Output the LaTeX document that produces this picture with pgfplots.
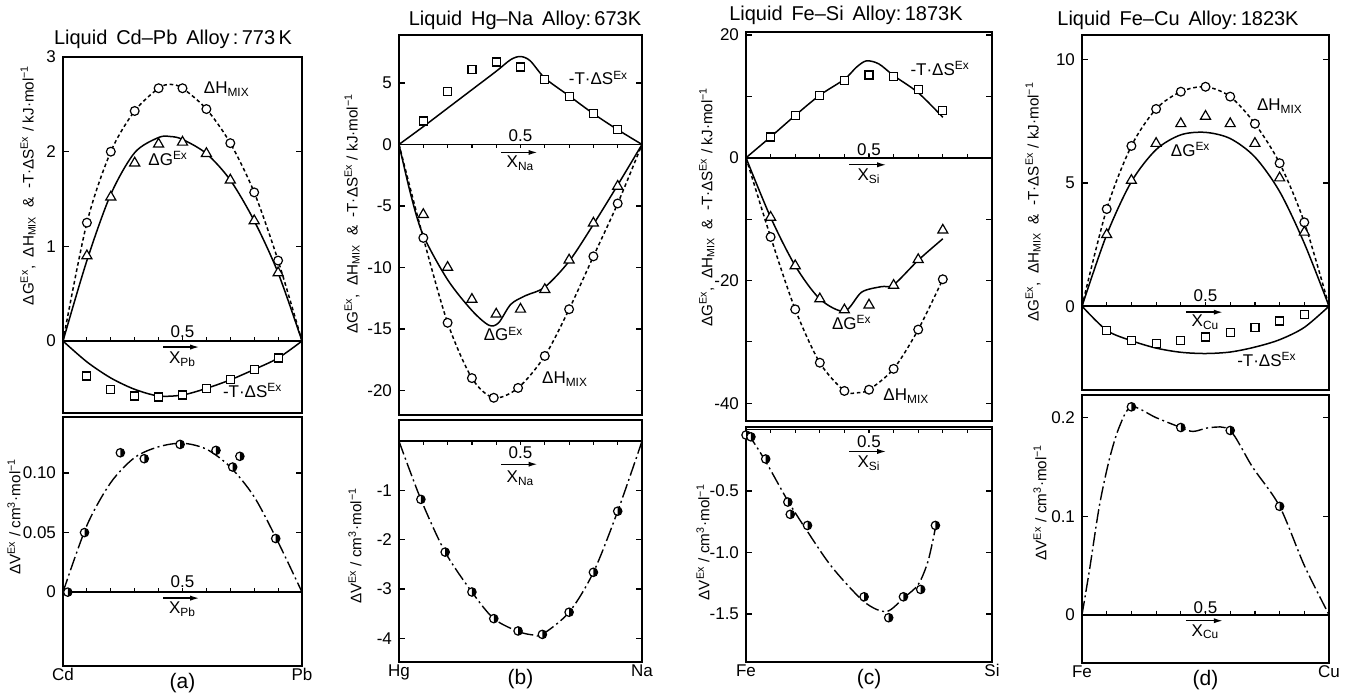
\documentclass[border=0pt]{standalone}
\usepackage{fontspec}
\setmainfont{Liberation Sans}
\usepackage{pgfplots}
\pgfplotsset{compat=1.18}
\usetikzlibrary{arrows.meta}

\newcommand{\tk}{\fontsize{8.5}{10}\selectfont}
\newcommand{\lb}{\fontsize{7.6}{9}\selectfont}
\newcommand{\ttl}{\fontsize{10}{12}\selectfont}
\newcommand{\dG}{ΔG\textsuperscript{Ex}}
\newcommand{\dH}{ΔH\textsubscript{MIX}}
\newcommand{\TS}{-T·ΔS\textsuperscript{Ex}}
\newcommand{\ytop}{\dG,\ \ \dH\ \ \&\ \ \TS\ / kJ·mol\textsuperscript{−1}}
\newcommand{\ybot}{ΔV\textsuperscript{Ex}\ / cm\textsuperscript{3}·mol\textsuperscript{−1}}

% circle, right half black
\pgfdeclareplotmark{halfo}{%
  \pgfsetfillcolor{white}%
  \pgfpathcircle{\pgfpointorigin}{\pgfplotmarksize}%
  \pgfusepathqfill
  \pgfsetfillcolor{black}%
  \pgfpathmoveto{\pgfqpoint{0pt}{\pgfplotmarksize}}%
  \pgfpatharc{90}{-90}{\pgfplotmarksize}%
  \pgfpathclose
  \pgfusepathqfill
  \pgfpathcircle{\pgfpointorigin}{\pgfplotmarksize}%
  \pgfusepathqstroke
}

\pgfplotsset{
  panel/.style={scale only axis, anchor=south west, xmin=0, xmax=1, xtick=\empty,
    clip=false, tick align=inside, major tick length=3pt,
    axis line style={line width=0.8pt},
    every tick/.append style={black, line width=0.6pt},
    yticklabel style={font=\tk}, ylabel style={font=\lb, anchor=center}},
  ylab/.style 2 args={ylabel style={at={(rel axis cs:#1,#2)}}},
  gcurve/.style={black, line width=0.75pt, smooth, no marks},
  hcurve/.style={black, line width=0.75pt, smooth, no marks, dash pattern=on 1.8pt off 1.4pt},
  vcurve/.style={black, line width=0.7pt, smooth, no marks, dash pattern=on 7pt off 1.8pt on 1pt off 1.8pt},
  circ/.style={only marks, mark=*, mark size=2.2pt, mark options={draw=black, fill=white, line width=0.6pt}},
  tri/.style={only marks, mark=triangle*, mark size=2.9pt, mark options={draw=black, fill=white, line width=0.6pt}},
  sq/.style={only marks, mark=square*, mark size=2pt, mark options={draw=black, fill=white, line width=0.6pt}},
  half/.style={only marks, mark=halfo, mark size=2.1pt, mark options={draw=black, line width=0.6pt}},
}

% zero line with 0.1 ticks; #1 = tick shift (up +, down -)
\newcommand{\zeroline}[1]{%
  \addplot[black, line width=0.8pt] coordinates {(0,0) (1,0)};
  \addplot[only marks, mark=|, mark size=1pt, mark options={yshift=#1, line width=0.6pt}]
    coordinates {(0.1,0) (0.2,0) (0.3,0) (0.4,0) (0.5,0) (0.6,0) (0.7,0) (0.8,0) (0.9,0)};
}
% 0.5 label, arrow and X label; #1 element, #2 0.5 shift, #3 arrow shift, #4 X shift
\newcommand{\xmark}[4]{%
  \node[font=\tk, inner sep=0pt] at ([yshift=#2]axis cs:0.5,0) {0.5};
  \draw[-{Latex[length=4.5pt,width=2.6pt]}, line width=0.7pt] ([yshift=#3]axis cs:0.42,0) -- ([yshift=#3]axis cs:0.57,0);
  \node[font=\tk, inner sep=0pt] at ([yshift=#4]axis cs:0.5,0) {X\textsubscript{#1}};
}
\newcommand{\sidelabels}[3]{%
  \node[font=\tk, anchor=north, inner sep=1pt] at (rel axis cs:0,0) {#1};
  \node[font=\tk, anchor=north, inner sep=1pt] at (rel axis cs:1,0) {#2};
  \node[font=\fontsize{10.5}{12}\selectfont] at ([yshift=-8.5pt]rel axis cs:0.5,0) {#3};
}

\begin{document}
\begin{tikzpicture}
\useasboundingbox (0,0) rectangle (674pt,-347.5pt);

\node[font=\ttl] at (86.5pt,-19.5pt) {Liquid\ \,Cd–Pb\ \,Alloy\,:\,773\,K};
\node[font=\ttl] at (262.5pt,-10pt) {Liquid\ \,Hg–Na\ \,Alloy:\,673K};
\node[font=\ttl] at (423pt,-7.5pt) {Liquid\ \,Fe–Si\ \,Alloy:\,1873K};
\node[font=\ttl] at (589pt,-10pt) {Liquid\ \,Fe–Cu\ \,Alloy:\,1823K};

% ---------------- (a) Cd-Pb ----------------
\begin{axis}[panel, at={(31.5pt,-206.5pt)}, width=119.5pt, height=178pt,
  ymin=-0.76, ymax=3, ytick={0,1,2,3}, yticklabels={0,1,2,3},
  ylabel={\ytop}, ylab={-0.146}{0.64}]
\zeroline{1pt}
\addplot[hcurve] coordinates {(0,0) (0.1,1.25) (0.2,2.0) (0.3,2.43) (0.4,2.67) (0.45,2.71) (0.5,2.67) (0.6,2.45) (0.7,2.09) (0.8,1.57) (0.9,0.85) (1,0)};
\addplot[gcurve] coordinates {(0,0) (0.1,0.85) (0.2,1.55) (0.3,1.99) (0.4,2.15) (0.45,2.16) (0.5,2.13) (0.6,1.98) (0.7,1.7) (0.8,1.27) (0.9,0.72) (1,0)};
\addplot[gcurve] coordinates {(0,0) (0.1,-0.22) (0.2,-0.39) (0.3,-0.51) (0.4,-0.58) (0.5,-0.57) (0.6,-0.5) (0.7,-0.41) (0.8,-0.3) (0.9,-0.18) (1,0)};
\addplot[circ] coordinates {(0.1,1.25) (0.2,2.0) (0.3,2.43) (0.4,2.67) (0.5,2.67) (0.6,2.45) (0.7,2.09) (0.8,1.57) (0.9,0.85)};
\addplot[tri] coordinates {(0.1,0.9) (0.2,1.52) (0.3,1.88) (0.4,2.08) (0.5,2.1) (0.6,1.98) (0.7,1.7) (0.8,1.27) (0.9,0.72)};
\addplot[sq] coordinates {(0.1,-0.37) (0.2,-0.51) (0.3,-0.58) (0.4,-0.59) (0.5,-0.57) (0.6,-0.5) (0.7,-0.41) (0.8,-0.3) (0.9,-0.18)};
\node[font=\tk, anchor=west] at (axis cs:0.56,2.66) {\dH};
\node[font=\tk] at (axis cs:0.44,1.93) {\dG};
\node[font=\tk, anchor=west] at (axis cs:0.64,-0.52) {\TS};
\xmark{Pb}{4.5pt}{-3pt}{-9pt}
\end{axis}

\begin{axis}[panel, at={(31.5pt,-333pt)}, width=119.5pt, height=124.5pt,
  ymin=-0.062, ymax=0.147, ytick={0,0.05,0.1}, yticklabels={0,0.05,0.10},
  ylabel={\ybot}, ylab={-0.205}{0.6}]
\zeroline{1pt}
\addplot[vcurve] coordinates {(0,0) (0.1,0.056) (0.2,0.092) (0.3,0.113) (0.4,0.122) (0.5,0.125) (0.6,0.12) (0.7,0.105) (0.8,0.08) (0.9,0.042) (1,0)};
\addplot[half] coordinates {(0.02,0) (0.09,0.05) (0.24,0.117) (0.34,0.112) (0.49,0.124) (0.64,0.119) (0.71,0.105) (0.74,0.114) (0.89,0.045)};
\xmark{Pb}{5pt}{-3pt}{-8.5pt}
\sidelabels{Cd}{Pb}{(a)}
\end{axis}

% ---------------- (b) Hg-Na ----------------
\begin{axis}[panel, at={(199.5pt,-207.5pt)}, width=121.5pt, height=190pt,
  ymin=-22, ymax=8.9, ytick={-20,-15,-10,-5,0,5}, yticklabels={-20,-15,-10,-5,0,5},
  ylabel={\ytop}, ylab={-0.193}{0.53}]
\zeroline{-1pt}
\addplot[gcurve] coordinates {(0,0) (0.1,1.45) (0.2,2.95) (0.3,4.45) (0.4,5.95) (0.46,6.9) (0.5,7.15) (0.54,6.8) (0.6,5.4) (0.7,3.95) (0.8,2.5) (0.9,1.2) (1,0)};
\addplot[gcurve] coordinates {(0,0) (0.05,-4.2) (0.1,-7.4) (0.2,-11.0) (0.3,-13.5) (0.37,-14.7) (0.41,-14.5) (0.46,-13.0) (0.52,-12.3) (0.6,-11.6) (0.7,-9.5) (0.8,-6.5) (0.9,-3.3) (1,0)};
\addplot[hcurve] coordinates {(0,0) (0.1,-7.6) (0.2,-14.5) (0.3,-19.0) (0.39,-20.6) (0.49,-19.8) (0.6,-17.2) (0.7,-13.4) (0.8,-9.1) (0.9,-4.8) (1,0)};
\addplot[sq] coordinates {(0.1,1.9) (0.2,4.3) (0.3,6.1) (0.4,6.7) (0.5,6.3) (0.6,5.3) (0.7,3.9) (0.8,2.5) (0.9,1.2)};
\addplot[tri] coordinates {(0.1,-5.7) (0.2,-10.0) (0.3,-12.6) (0.4,-13.8) (0.5,-13.4) (0.6,-11.8) (0.7,-9.4) (0.8,-6.4) (0.9,-3.4)};
\addplot[circ] coordinates {(0.1,-7.6) (0.2,-14.5) (0.3,-19.0) (0.39,-20.6) (0.49,-19.8) (0.6,-17.2) (0.7,-13.4) (0.8,-9.1) (0.9,-4.8)};
\node[font=\tk, anchor=west] at (axis cs:0.67,5.4) {\TS};
\node[font=\tk] at (axis cs:0.43,-15.4) {\dG};
\node[font=\tk, anchor=west] at (axis cs:0.56,-19.1) {\dH};
\xmark{Na}{4.5pt}{-4pt}{-9.5pt}
\end{axis}

\begin{axis}[panel, at={(199.5pt,-331pt)}, width=121.5pt, height=121pt,
  ymin=-4.48, ymax=0.43, ytick={-4,-3,-2,-1}, yticklabels={-4,-3,-2,-1},
  ylabel={\ybot}, ylab={-0.181}{0.48}]
\zeroline{-1pt}
\addplot[vcurve] coordinates {(0,0) (0.09,-1.18) (0.19,-2.25) (0.3,-3.06) (0.39,-3.6) (0.49,-3.86) (0.55,-3.93) (0.59,-3.92) (0.7,-3.47) (0.8,-2.66) (0.9,-1.42) (1,0)};
\addplot[half] coordinates {(0.09,-1.18) (0.19,-2.25) (0.3,-3.06) (0.39,-3.6) (0.49,-3.85) (0.59,-3.92) (0.7,-3.47) (0.8,-2.66) (0.9,-1.42)};
\xmark{Na}{-5.5pt}{-11.5pt}{-18.5pt}
\sidelabels{Hg}{Na}{(b)}
\end{axis}

% ---------------- (c) Fe-Si ----------------
\begin{axis}[panel, at={(373pt,-210.5pt)}, width=123pt, height=194.5pt,
  ymin=-42.9, ymax=20.5, ytick={-40,-30,-20,-10,0,10,20}, yticklabels={-40,,-20,,0,,20},
  ylabel={\ytop}, ylab={-0.159}{0.55}]
\zeroline{1pt}
\addplot[gcurve] coordinates {(0,0) (0.1,3.4) (0.2,6.9) (0.3,10.2) (0.4,12.8) (0.45,14.8) (0.49,15.8) (0.54,15.3) (0.6,13.4) (0.7,10.6) (0.8,6.6)};
\addplot[gcurve] coordinates {(0,0) (0.1,-9.7) (0.2,-17.6) (0.3,-23) (0.4,-25) (0.47,-21.9) (0.55,-21) (0.6,-20.7) (0.7,-16.7) (0.8,-13.2)};
\addplot[hcurve] coordinates {(0,0) (0.1,-12.9) (0.2,-24.7) (0.3,-33.4) (0.4,-38) (0.45,-38.3) (0.5,-37.8) (0.6,-34.4) (0.7,-28) (0.8,-19.8)};
\addplot[sq] coordinates {(0.1,3.4) (0.2,6.9) (0.3,10.2) (0.4,12.6) (0.5,13.5) (0.6,13.3) (0.7,11.1) (0.8,7.7)};
\addplot[tri] coordinates {(0.1,-9.7) (0.2,-17.6) (0.3,-23) (0.4,-24.8) (0.5,-24) (0.6,-20.8) (0.7,-16.6) (0.8,-11.8)};
\addplot[circ] coordinates {(0.1,-12.9) (0.2,-24.7) (0.3,-33.4) (0.4,-38) (0.5,-37.8) (0.6,-34.4) (0.7,-28) (0.8,-19.8)};
\node[font=\tk, anchor=west] at (axis cs:0.64,14.6) {\TS};
\node[font=\tk] at (axis cs:0.43,-26.8) {\dG};
\node[font=\tk, anchor=west] at (axis cs:0.53,-38.8) {\dH};
\xmark{Si}{4pt}{-3.5pt}{-9pt}
\end{axis}

\begin{axis}[panel, at={(373pt,-331pt)}, width=123pt, height=117.5pt,
  ymin=-1.89, ymax=0.02, ytick={-1.5,-1,-0.5}, yticklabels={-1.5,-1.0,-0.5},
  ylabel={\ybot}, ylab={-0.175}{0.51}]
\zeroline{-1pt}
\addplot[vcurve] coordinates {(0.005,-0.03) (0.02,-0.07) (0.08,-0.26) (0.17,-0.58) (0.25,-0.83) (0.35,-1.12) (0.48,-1.4) (0.57,-1.48) (0.64,-1.37) (0.7,-1.26) (0.74,-1.07) (0.77,-0.8)};
\addplot[half] coordinates {(0,-0.045) (0.02,-0.06) (0.08,-0.24) (0.17,-0.59) (0.18,-0.69) (0.25,-0.78) (0.48,-1.36) (0.58,-1.53) (0.64,-1.36) (0.71,-1.3) (0.77,-0.78)};
\xmark{Si}{-6pt}{-11pt}{-17pt}
\sidelabels{Fe}{Si}{(c)}
\end{axis}

% ---------------- (d) Fe-Cu ----------------
\begin{axis}[panel, at={(541pt,-195pt)}, width=123.5pt, height=177.5pt,
  ymin=-3.4, ymax=11, ytick={0,5,10}, yticklabels={0,5,10},
  ylabel={\ytop}, ylab={-0.198}{0.53}]
\zeroline{1pt}
\addplot[hcurve] coordinates {(0,0) (0.1,3.94) (0.2,6.5) (0.3,8.0) (0.4,8.7) (0.5,8.9) (0.6,8.5) (0.7,7.4) (0.8,5.8) (0.9,3.4) (1,0)};
\addplot[gcurve] coordinates {(0,0) (0.1,2.9) (0.2,5.05) (0.3,6.35) (0.4,6.95) (0.5,7.05) (0.6,6.8) (0.7,6.05) (0.8,4.65) (0.9,2.55) (1,0)};
\addplot[gcurve] coordinates {(0,0) (0.1,-0.98) (0.2,-1.4) (0.3,-1.7) (0.4,-1.87) (0.5,-1.92) (0.6,-1.86) (0.7,-1.66) (0.8,-1.36) (0.9,-0.86) (1,0)};
\addplot[circ] coordinates {(0.1,3.94) (0.2,6.5) (0.3,8.0) (0.4,8.7) (0.5,8.9) (0.6,8.5) (0.7,7.4) (0.8,5.8) (0.9,3.4)};
\addplot[tri] coordinates {(0.1,2.9) (0.2,5.1) (0.3,6.6) (0.4,7.4) (0.5,7.7) (0.6,7.4) (0.7,6.6) (0.8,5.2) (0.9,3.0)};
\addplot[sq] coordinates {(0.1,-1.0) (0.2,-1.38) (0.3,-1.5) (0.4,-1.38) (0.5,-1.25) (0.6,-1.08) (0.7,-0.88) (0.8,-0.6) (0.9,-0.33)};
\node[font=\tk, anchor=west] at (axis cs:0.68,8.1) {\dH};
\node[font=\tk] at (axis cs:0.44,6.35) {\dG};
\node[font=\tk, anchor=west] at (axis cs:0.6,-2.15) {\TS};
\xmark{Cu}{5.5pt}{-3pt}{-8pt}
\end{axis}

\begin{axis}[panel, at={(541pt,-331.5pt)}, width=123.5pt, height=134pt,
  ymin=-0.049, ymax=0.223, ytick={0,0.1,0.2}, yticklabels={0,0.1,0.2},
  ylabel={\ybot}, ylab={-0.17}{0.6}]
\zeroline{1pt}
\addplot[vcurve] coordinates {(0,0) (0.03,0.045) (0.07,0.11) (0.11,0.157) (0.15,0.19) (0.2,0.211) (0.3,0.2) (0.4,0.19) (0.45,0.186) (0.52,0.19) (0.6,0.187) (0.69,0.15) (0.8,0.11) (0.9,0.05) (1,0)};
\addplot[half] coordinates {(0.2,0.211) (0.4,0.19) (0.6,0.187) (0.8,0.11)};
\xmark{Cu}{3.5pt}{-3pt}{-8.5pt}
\sidelabels{Fe}{Cu}{(d)}
\end{axis}
\end{tikzpicture}
\end{document}
